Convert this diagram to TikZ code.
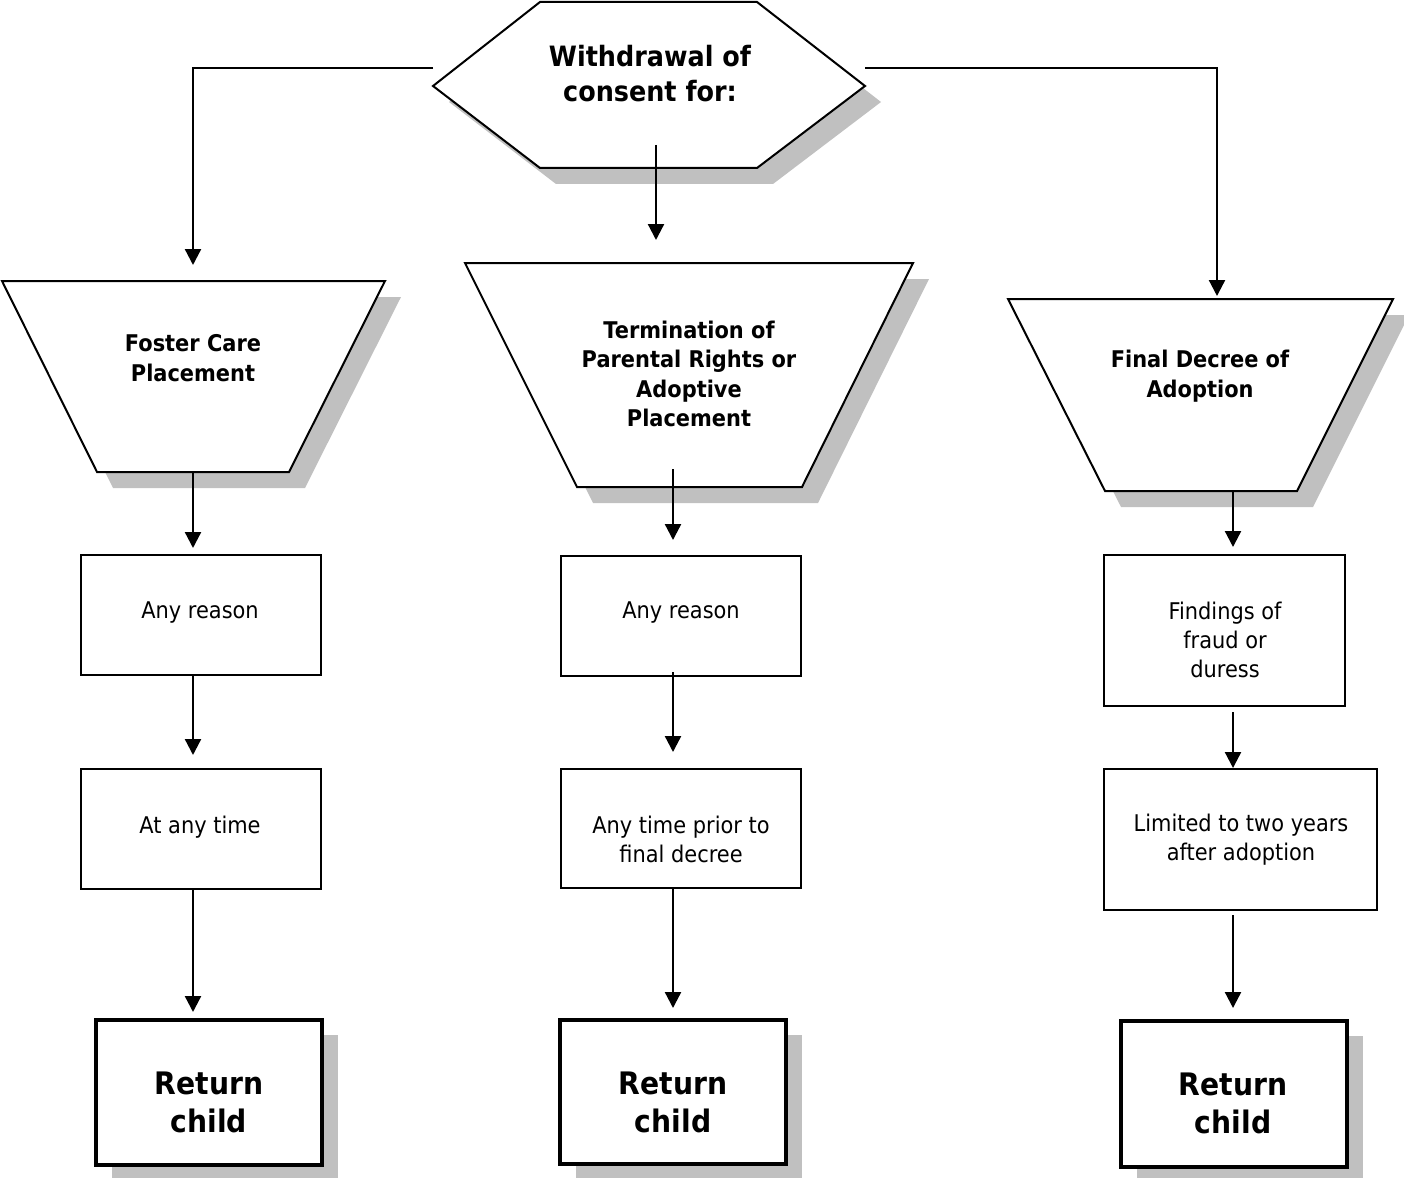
\documentclass[tikz,border=0pt]{standalone}
\usepackage{fontspec}
\setmainfont{DejaVu Sans}[FakeStretch=0.91]
\usetikzlibrary{arrows.meta}
\definecolor{shade}{RGB}{192,192,192}
\tikzset{
  outline/.style={draw=black, line width=2pt, fill=white, line join=miter},
  dropshadow/.style={fill=shade, draw=none},
  plainbox/.style={draw=black, line width=2pt, fill=white, inner sep=0pt},
  endbox/.style={draw=black, line width=4.8pt, fill=white, inner sep=0pt},
  boldtxt/.style={font=\fontsize{23}{29.5}\selectfont\bfseries, align=center, inner sep=0pt},
  regtxt/.style={font=\fontsize{23}{29}\selectfont, align=center, inner sep=0pt},
  bigtxt/.style={font=\fontsize{31}{38}\selectfont\bfseries, align=center, inner sep=0pt},
  headtxt/.style={font=\fontsize{28}{35}\selectfont\bfseries, align=center, inner sep=0pt},
  link/.style={line width=2.3pt, -{Triangle[length=16pt,width=16pt]}},
}
\begin{document}
\begin{tikzpicture}[x=1pt,y=-1pt]
\useasboundingbox (0,0) rectangle (1404,1177);

% ---------- top hexagon ----------
\fill[dropshadow, shift={(16,16)}] (433,86) -- (540,2) -- (757,2) -- (865,86) -- (757,168) -- (540,168) -- cycle;
\draw[outline] (433,86) -- (540,2) -- (757,2) -- (865,86) -- (757,168) -- (540,168) -- cycle;
\node[headtxt] (head) at (650,74) {Withdrawal of\\consent for:};

% ---------- three trapezoids ----------
\fill[dropshadow, shift={(16,16)}] (2,281) -- (385,281) -- (289,472) -- (97,472) -- cycle;
\draw[outline] (2,281) -- (385,281) -- (289,472) -- (97,472) -- cycle;
\node[boldtxt] (foster) at (193,358) {Foster Care\\Placement};

\fill[dropshadow, shift={(16,16)}] (465,263) -- (913,263) -- (802,487) -- (577,487) -- cycle;
\draw[outline] (465,263) -- (913,263) -- (802,487) -- (577,487) -- cycle;
\node[boldtxt] (tpr) at (689,374) {Termination of\\Parental Rights or\\Adoptive\\Placement};

\fill[dropshadow, shift={(16,16)}] (1008,299) -- (1393,299) -- (1297,491) -- (1105,491) -- cycle;
\draw[outline] (1008,299) -- (1393,299) -- (1297,491) -- (1105,491) -- cycle;
\node[boldtxt] (decree) at (1200,376) {Final Decree of\\Adoption};

% ---------- condition boxes ----------
\node[plainbox, minimum width=240pt, minimum height=120pt] (l1) at (201,615) {};
\node[regtxt] (l1t) at (200,613) {Any reason};
\node[plainbox, minimum width=240pt, minimum height=120pt] (l2) at (201,829) {};
\node[regtxt] (l2t) at (200,827) {At any time};

\node[plainbox, minimum width=240pt, minimum height=120pt] (m1) at (681,616) {};
\node[regtxt] (m1t) at (681,613) {Any reason};
\node[plainbox, minimum width=240pt, minimum height=119pt] (m2) at (681,828.5) {};
\node[regtxt] (m2t) at (681,839) {Any time prior to\\final decree};

\node[plainbox, minimum width=241pt, minimum height=151pt] (r1) at (1224.5,630.5) {};
\node[regtxt] (r1t) at (1225,640) {Findings of\\fraud or\\duress};
\node[plainbox, minimum width=273pt, minimum height=141pt] (r2) at (1240.5,839.5) {};
\node[regtxt] (r2t) at (1241,840) {Limited to two years\\after adoption};

% ---------- outcome boxes ----------
\fill[dropshadow] (112,1035) rectangle (338,1180);
\node[endbox, minimum width=226pt, minimum height=145pt] (l3) at (209,1092.5) {};
\node[bigtxt] (l3t) at (209,1102) {Return\\child};

\fill[dropshadow] (576,1035) rectangle (802,1180);
\node[endbox, minimum width=226pt, minimum height=144pt] (m3) at (673,1092) {};
\node[bigtxt] (m3t) at (673,1102) {Return\\child};

\fill[dropshadow] (1137,1036) rectangle (1363,1180);
\node[endbox, minimum width=226pt, minimum height=146pt] (r3) at (1234,1094) {};
\node[bigtxt] (r3t) at (1233,1103) {Return\\child};

% ---------- connector end points ----------
\coordinate (hl) at (433,68);
\coordinate (hlc) at (193,68);
\coordinate (fosterin) at (193,265);
\coordinate (hr) at (865,68);
\coordinate (hrc) at (1217,68);
\coordinate (decreein) at (1217,296);
\coordinate (hm) at (656,145);
\coordinate (tprin) at (656,240);

\coordinate (fosterout) at (193,472);
\coordinate (l1in) at (193,548);
\coordinate (l1out) at (193,675);
\coordinate (l2in) at (193,755);
\coordinate (l2out) at (193,889);
\coordinate (l3in) at (193,1012);

\coordinate (tprout) at (673,469);
\coordinate (m1in) at (673,540);
\coordinate (m1out) at (673,672);
\coordinate (m2in) at (673,752);
\coordinate (m2out) at (673,888);
\coordinate (m3in) at (673,1008);

\coordinate (decreeout) at (1233,491);
\coordinate (r1in) at (1233,547);
\coordinate (r1out) at (1233,712);
\coordinate (r2in) at (1233,768);
\coordinate (r2out) at (1233,915);
\coordinate (r3in) at (1233,1008);

% ---------- connectors ----------
\draw[link] (hl) -- (hlc) -- (fosterin);
\draw[link] (hr) -- (hrc) -- (decreein);
\draw[link] (hm) -- (tprin);

\draw[link] (fosterout) -- (l1in);
\draw[link] (l1out) -- (l2in);
\draw[link] (l2out) -- (l3in);

\draw[link] (tprout) -- (m1in);
\draw[link] (m1out) -- (m2in);
\draw[link] (m2out) -- (m3in);

\draw[link] (decreeout) -- (r1in);
\draw[link] (r1out) -- (r2in);
\draw[link] (r2out) -- (r3in);
\end{tikzpicture}
\end{document}
